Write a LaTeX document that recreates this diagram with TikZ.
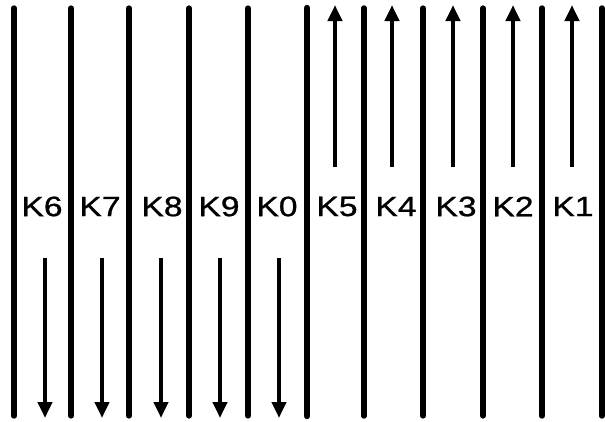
\documentclass[tikz,border=0pt]{standalone}
\usepackage{fontspec}
\setmainfont{Liberation Sans}
\newfontfamily\lblfont{Liberation Sans}[FakeBold=0.8]
\usetikzlibrary{arrows.meta}
\begin{document}
\begin{tikzpicture}[x=1pt,y=-1pt,
  divider/.style={line cap=round},
  flow/.style={line width=4.4pt, -{Triangle[length=16pt,width=14pt]}},
  keylabel/.style={font=\lblfont\fontsize{28}{28}\selectfont, inner sep=0pt, xscale=1.2, transform shape}]
\useasboundingbox[fill=white] (0,0) rectangle (605,421);
% divider lines
\foreach \x/\w [count=\i] in {14/5.4,71/5.2,129/5.2,189/5.2,248/5.2,307/6.4,364/5.4,423/5.2,483/5.2,542/5.4,602/5.4}{
  \coordinate (t\i) at (\x,8);
  \coordinate (b\i) at (\x,416);
  \draw[divider, line width=\w pt] (t\i) -- (b\i);
}
% labels
\foreach \x/\t in {42/K6,100/K7,162/K8,219/K9,277/K0,337/K5,396/K4,456/K3,513/K2,573/K1}{
  \node[keylabel] (l\t) at (\x,206.5) {\t};
}
% down arrows
\foreach \x [count=\i] in {45,102,161,220,279}{
  \coordinate (ds\i) at (\x,258);
  \coordinate (de\i) at (\x,418);
  \draw[flow] (ds\i) -- (de\i);
}
% up arrows
\foreach \x [count=\i] in {335,392,453,513,572}{
  \coordinate (us\i) at (\x,167);
  \coordinate (ue\i) at (\x,5);
  \draw[flow] (us\i) -- (ue\i);
}
\end{tikzpicture}
\end{document}
